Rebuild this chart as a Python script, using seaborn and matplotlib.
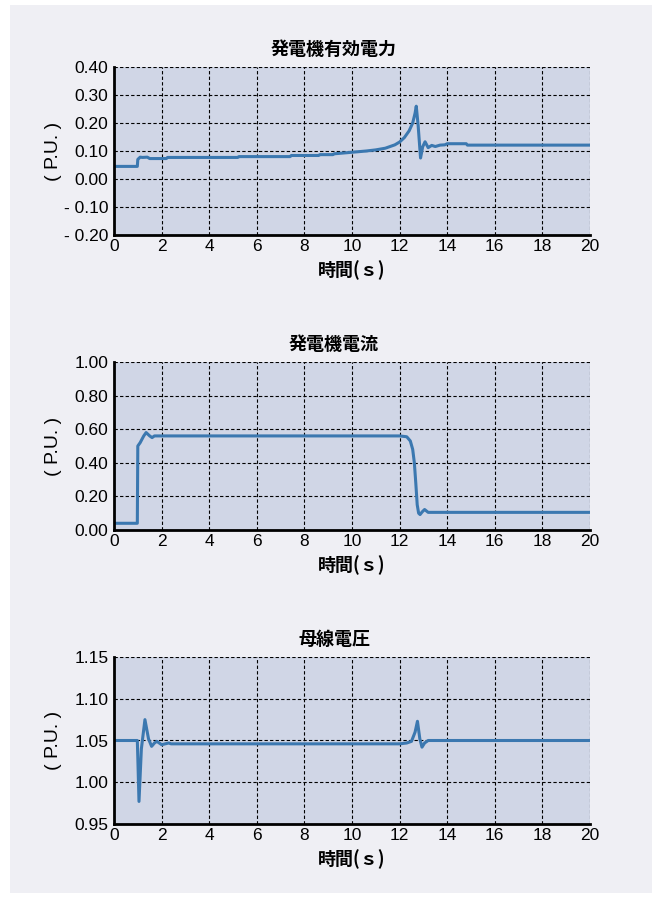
import matplotlib
matplotlib.use("Agg")
import matplotlib.pyplot as plt
import seaborn as sns
import pandas as pd
from matplotlib.patches import Rectangle

sns.set_theme(style="white")
plt.rcParams['font.family'] = ['Liberation Sans', 'Noto Sans CJK JP', 'DejaVu Sans']
plt.rcParams['text.color'] = 'black'
plt.rcParams['axes.labelcolor'] = 'black'
plt.rcParams['xtick.color'] = 'black'
plt.rcParams['ytick.color'] = 'black'

# ---- data ----
titles = ["発電機有効電力", "発電機電流", "母線電圧"]
x_label = "時間(ｓ)"
y_label = "( P.U. )"
x_ticks = [0, 2, 4, 6, 8, 10, 12, 14, 16, 18, 20]

power_t = [0, 0.98, 1.0, 1.1, 1.2, 1.4, 1.5, 2.2, 2.25, 5.2, 5.25, 7.4, 7.45, 8.6, 8.65,
           9.2, 9.25, 9.8, 10.2, 10.6, 11.0, 11.4, 11.8, 12.0, 12.2, 12.4, 12.55, 12.65,
           12.7, 12.78, 12.88, 12.97, 13.07, 13.2, 13.35, 13.5, 13.7, 13.9, 14.0, 14.8,
           14.85, 20]
power_v = [0.045, 0.045, 0.07, 0.078, 0.077, 0.078, 0.073, 0.073, 0.077, 0.077, 0.080,
           0.080, 0.084, 0.084, 0.087, 0.087, 0.090, 0.094, 0.097, 0.100, 0.104, 0.110,
           0.122, 0.132, 0.148, 0.172, 0.200, 0.235, 0.260, 0.190, 0.075, 0.115, 0.133,
           0.112, 0.120, 0.116, 0.121, 0.122, 0.126, 0.126, 0.121, 0.121]
power_yticks = [-0.2, -0.1, 0.0, 0.1, 0.2, 0.3, 0.4]
power_yticklabels = ["- 0.20", "- 0.10", "0.00", "0.10", "0.20", "0.30", "0.40"]

current_t = [0, 0.98, 1.0, 1.1, 1.25, 1.35, 1.5, 1.6, 1.7, 12.0, 12.3, 12.45, 12.55,
             12.62, 12.68, 12.74, 12.8, 12.86, 12.95, 13.05, 13.2, 20]
current_v = [0.04, 0.04, 0.50, 0.52, 0.56, 0.58, 0.56, 0.55, 0.56, 0.56, 0.555, 0.53,
             0.48, 0.40, 0.28, 0.15, 0.10, 0.092, 0.108, 0.122, 0.105, 0.105]
current_yticks = [0.0, 0.2, 0.4, 0.6, 0.8, 1.0]
current_yticklabels = ["0.00", "0.20", "0.40", "0.60", "0.80", "1.00"]

voltage_t = [0, 0.98, 1.0, 1.05, 1.15, 1.3, 1.45, 1.58, 1.7, 1.8, 2.0, 2.3, 2.4, 12.0,
             12.3, 12.5, 12.65, 12.75, 12.85, 12.94, 13.05, 13.2, 20]
voltage_v = [1.05, 1.05, 1.03, 0.977, 1.04, 1.075, 1.052, 1.043, 1.047, 1.049, 1.045,
             1.047, 1.046, 1.046, 1.047, 1.049, 1.060, 1.073, 1.052, 1.042, 1.047, 1.050,
             1.050]
voltage_yticks = [0.95, 1.0, 1.05, 1.1, 1.15]
voltage_yticklabels = ["0.95", "1.00", "1.05", "1.10", "1.15"]

series = [
    (power_t, power_v, power_yticks, power_yticklabels),
    (current_t, current_v, current_yticks, current_yticklabels),
    (voltage_t, voltage_v, voltage_yticks, voltage_yticklabels),
]

# ---- layout (pixels) ----
W, H = 654, 897
fig = plt.figure(figsize=(W / 100, H / 100), dpi=100)
fig.patch.set_facecolor("white")
bg = Rectangle((10 / W, 4 / H), (W - 12) / W, (H - 9) / H,
               transform=fig.transFigure, facecolor="#efeff4",
               edgecolor="none", zorder=-10)
fig.patches.append(bg)

boxes = [(67, 235), (362, 530), (657, 824)]
line_color = "#3b78b0"
face = "#d0d6e6"
ax_left, ax_w = 114, 476

for (top, bot), title, (t, v, yt, ytl) in zip(boxes, titles, series):
    ax = fig.add_axes([ax_left / W, (H - bot) / H, ax_w / W, (bot - top) / H])
    ax.set_zorder(1)
    ax.set_facecolor(face)
    df = pd.DataFrame({"t": t, "v": v})
    sns.lineplot(data=df, x="t", y="v", ax=ax, color=line_color, linewidth=2.2,
                 estimator=None, sort=False)
    ax.set_xlim(0, 20)
    ax.set_ylim(yt[0], yt[-1])
    ax.set_xticks(x_ticks)
    ax.set_xticklabels([str(x) for x in x_ticks], fontsize=12.5)
    ax.set_yticks(yt)
    ax.set_yticklabels(ytl, fontsize=12.5)
    ax.tick_params(axis="y", length=0, pad=4)
    ax.tick_params(axis="x", length=0, pad=3)
    ax.grid(True, color="black", linestyle=(0, (3, 2)), linewidth=0.8)
    ax.set_axisbelow(True)
    for s in ["top", "right"]:
        ax.spines[s].set_visible(False)
    for s in ["left", "bottom"]:
        ax.spines[s].set_visible(True)
        ax.spines[s].set_color("black")
        ax.spines[s].set_linewidth(2)
    ax.set_title(title, fontsize=13, fontweight="bold", pad=9,
                 x=(334 - ax_left) / ax_w, family=['Noto Sans CJK JP'])
    ax.set_xlabel(x_label, fontsize=13, fontweight="bold",
                  family=['Noto Sans CJK JP'])
    ax.xaxis.set_label_coords(0.5, -35 / (bot - top), transform=ax.transAxes)
    ax.xaxis.label.set_verticalalignment("center")
    ax.set_ylabel(y_label, fontsize=14)
    ax.yaxis.set_label_coords(-(ax_left - 54) / ax_w, 0.5, transform=ax.transAxes)
    ax.yaxis.label.set_verticalalignment("center")

fig.savefig("out.png", dpi=100, facecolor=fig.get_facecolor())
